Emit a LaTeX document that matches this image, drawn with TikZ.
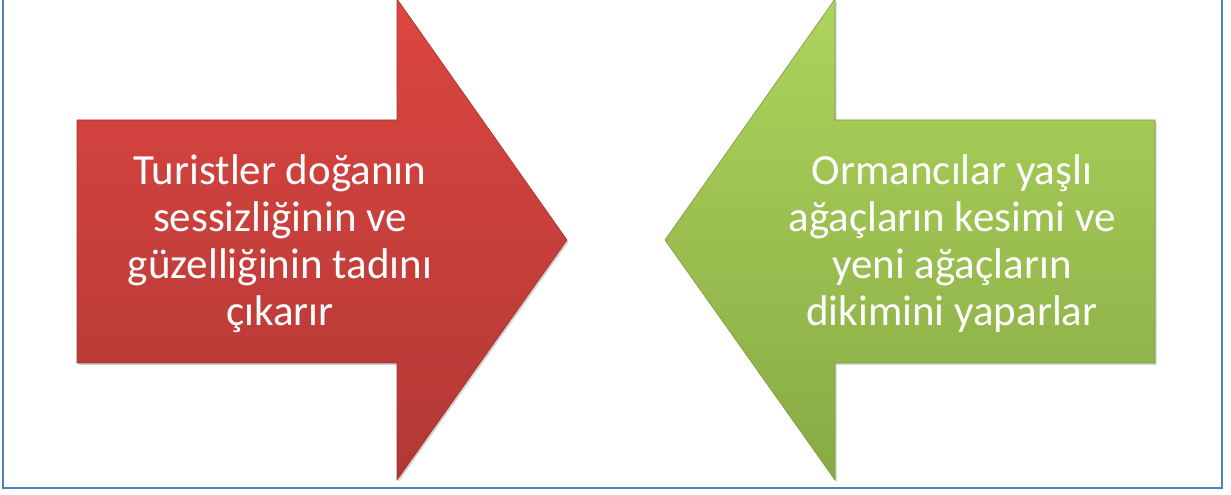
\documentclass[tikz,border=0pt]{standalone}
\usepackage{fontspec}
\setmainfont{Carlito}
\usetikzlibrary{shadows}
\definecolor{frameblue}{HTML}{4F81BD}
\definecolor{redtop}{HTML}{DC4640}
\definecolor{redbot}{HTML}{B23835}
\definecolor{redline}{HTML}{A0322F}
\definecolor{greentop}{HTML}{ADD45C}
\definecolor{greenbot}{HTML}{88AA44}
\definecolor{greenline}{HTML}{7C9B3E}
\tikzset{
  arrowshape/.style={line width=0.6pt, drop shadow={opacity=0.35, shadow xshift=1.5pt, shadow yshift=-2pt}},
  redarrow/.style={arrowshape, draw=redline, top color=redtop, bottom color=redbot},
  greenarrow/.style={arrowshape, draw=greenline, top color=greentop, bottom color=greenbot},
  label/.style={text=white, align=center, inner sep=0pt, font=\fontsize{43}{47}\selectfont},
}
\begin{document}
\begin{tikzpicture}[x=1pt,y=1pt]
\useasboundingbox (0,0) rectangle (1231,495);
\begin{scope}
\clip (0,0) rectangle (1231,495);
\draw[frameblue, line width=1.8pt] (3,7) rectangle (1222,520);
\path[redarrow] (77,375) -- (397,375) -- (397,496) -- (567,255) -- (397,15) -- (397,132) -- (77,132) -- cycle;
\path[greenarrow] (1155,375) -- (835,375) -- (835,496) -- (665,255) -- (835,15) -- (835,132) -- (1155,132) -- cycle;
\end{scope}
\node[label] (turist) at (280,251) {Turistler doğanın\\sessizliğinin ve\\güzelliğinin tadını\\çıkarır};
\node[label] (orman) at (952,251) {Ormancılar yaşlı\\ağaçların kesimi ve\\yeni ağaçların\\dikimini yaparlar};
\end{tikzpicture}
\end{document}
